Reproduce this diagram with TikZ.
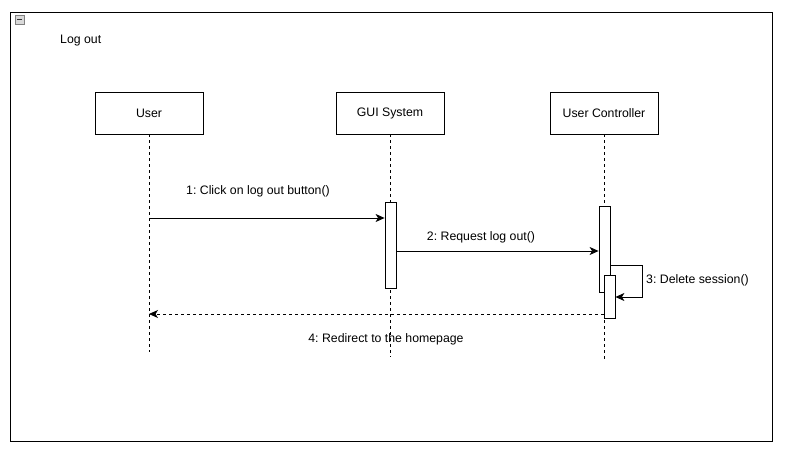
\documentclass[tikz,border=0pt]{standalone}
\usepackage{fontspec}
\setmainfont{Liberation Sans}
\usetikzlibrary{arrows.meta}
\frenchspacing

\begin{document}
\begin{tikzpicture}[x=1pt,y=-1pt,>={Stealth[length=9pt,width=8pt,inset=2.5pt]},font=\fontsize{12.3}{15}\selectfont,
	obj/.style={draw,line width=0.9pt,fill=white,minimum width=108,minimum height=42,inner sep=0},
	act/.style={draw,line width=0.8pt,fill=white,minimum width=11,inner sep=0},
	life/.style={line width=0.8pt,dash pattern=on 3pt off 3pt},
	msg/.style={->,line width=0.8pt}]
	\useasboundingbox (0,0) rectangle (787,457);
	% frame
	\draw[line width=0.9pt] (10,12) rectangle (772,441);
	\draw[gray,fill=gray!30] (15,15) rectangle (24,24);
	\draw[line width=1pt,gray!40!black] (17,19.5) -- (22,19.5);
	\node[anchor=west,inner sep=0] (title) at (60,40.5) {Log out};
	% objects
	\node[obj] (user) at (149,113) {User};
	\node[obj] (gui) at (390,113) {GUI System};
	\node[obj] (ctrl) at (604,113) {User Controller};
	\coordinate (userend) at (149,352);
	\coordinate (guiend) at (390,357);
	\coordinate (ctrlend) at (604,362);
	\draw[life] (user) -- (userend);
	\draw[life] (gui) -- (guiend);
	\draw[life] (ctrl) -- (ctrlend);
	% activations
	\node[act,minimum height=86] (guiact) at (390.5,245) {};
	\node[act,minimum height=86] (ctrlact) at (604.5,249) {};
	\node[act,minimum height=43] (delact) at (609.5,296.5) {};
	% messages
	\draw[msg] (user.south |- 0,218) -- (guiact.west |- 0,218);
	\node (m1) at (258,191.5) {1: Click on log out button()};
	\draw[msg] (guiact.east |- 0,251) -- (ctrlact.west |- 0,251);
	\node (m2) at (481,237.5) {2: Request log out()};
	\draw[msg] (ctrlact.east |- 0,265) -- (642,265) |- (delact.east |- 0,297);
	\node[anchor=west,inner sep=0] (m3) at (646,280.5) {3: Delete session()};
	\draw[msg,dash pattern=on 3pt off 3pt] (delact.west |- 0,314) -- (user.south |- 0,314);
	\node (m4) at (386,339.5) {4: Redirect to the homepage};
\end{tikzpicture}
\end{document}
